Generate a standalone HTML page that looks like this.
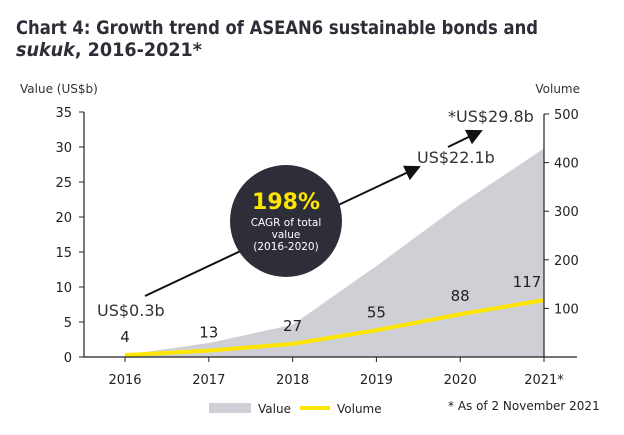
<!DOCTYPE html>
<html><head><meta charset="utf-8"><style>
body{margin:0;background:#fff;font-family:"Liberation Sans",sans-serif}
svg text{font-family:"DejaVu Sans","Liberation Sans",sans-serif}
</style></head><body>
<svg id="c" width="624" height="430">
<text x="16" y="34" font-size="19" font-weight="bold" fill="#2e2e38" textLength="522" lengthAdjust="spacingAndGlyphs">Chart 4: Growth trend of ASEAN6 sustainable bonds and</text>
<text x="16" y="56" font-size="19" font-weight="bold" fill="#2e2e38" textLength="186" lengthAdjust="spacingAndGlyphs"><tspan font-style="italic">sukuk</tspan>, 2016-2021*</text>
<text x="20" y="93" font-size="12" fill="#333">Value (US$b)</text>
<text x="580" y="93" font-size="12" fill="#333" text-anchor="end">Volume</text>
<g id="g"></g>
</svg>
<script>
const years=["2016","2017","2018","2019","2020","2021*"];
const values=[0.3,2,4.6,13,21.8,29.8];
const volumes=[4,13,27,55,88,117];
const leftTicks=[0,5,10,15,20,25,30,35];
const rightTicks=[100,200,300,400,500];
const NS="http://www.w3.org/2000/svg";
const g=document.getElementById('g');
const xS=i=>125+i*83.8;
const yL=v=>357-v*7;
const yR=v=>357-v*0.486;
function el(t,a,txt){const e=document.createElementNS(NS,t);for(const k in a)e.setAttribute(k,a[k]);if(txt!=null)e.textContent=txt;g.appendChild(e);return e;}
let d=`M${xS(0)},${yL(0)}`;values.forEach((v,i)=>d+=` L${xS(i)},${yL(v)}`);d+=` L${xS(5)},${yL(0)} Z`;
let a=el('path',{d,fill:'#cfd0d6'});


let pts=volumes.map((v,i)=>`${xS(i)},${yR(v)}`).join(' ');
let l=el('polyline',{points:pts,fill:'none',stroke:'#ffe600','stroke-width':4});


el('line',{x1:84,y1:112,x2:84,y2:357,stroke:'#222','stroke-width':1.2});
el('line',{x1:84,y1:357,x2:577,y2:357,stroke:'#222','stroke-width':1.2});
el('line',{x1:544,y1:114,x2:544,y2:357,stroke:'#222','stroke-width':1.2});
leftTicks.forEach(t=>{el('line',{x1:79,y1:yL(t),x2:84,y2:yL(t),stroke:'#222'});
 let e=el('text',{x:72,y:yL(t)+5,'font-size':13,'text-anchor':'end',fill:'#222'},t);
 
 });
rightTicks.forEach(t=>{el('line',{x1:544,y1:yR(t),x2:549,y2:yR(t),stroke:'#222'});
 let e=el('text',{x:554,y:yR(t)+5,'font-size':13,fill:'#222'},t);
 
 });
years.forEach((y,i)=>{el('line',{x1:xS(i),y1:357,x2:xS(i),y2:362,stroke:'#222'});
 let e=el('text',{x:xS(i),y:384,'font-size':13,'text-anchor':'middle',fill:'#222'},y);
 
 
 let v=el('text',{x:xS(i)+(i==5?-17:0),y:yR(volumes[i])-13,'font-size':15,'text-anchor':'middle',fill:'#222'},volumes[i]);
 
 });
const defs=document.createElementNS(NS,'defs');defs.innerHTML='<marker id="ar" markerWidth="8" markerHeight="8" refX="7" refY="4" orient="auto"><path d="M0,0L8,4L0,8Z" fill="#111"/></marker>';document.getElementById('c').appendChild(defs);
el('line',{x1:145,y1:296,x2:419,y2:167,stroke:'#111','stroke-width':2,'marker-end':'url(#ar)'});
el('line',{x1:448,y1:147,x2:481,y2:131,stroke:'#111','stroke-width':2,'marker-end':'url(#ar)'});
let c=el('circle',{cx:286,cy:221,r:56,fill:'#2e2e38'});


el('text',{x:286,y:209,'font-size':22,'font-weight':'bold','text-anchor':'middle',fill:'#ffe600'},'198%');
el('text',{x:286,y:226,'font-size':10.5,'text-anchor':'middle',fill:'#fff'},'CAGR of total');
el('text',{x:286,y:238,'font-size':10.5,'text-anchor':'middle',fill:'#fff'},'value');
el('text',{x:286,y:250,'font-size':10.5,'text-anchor':'middle',fill:'#fff'},'(2016-2020)');
el('text',{x:97,y:316,'font-size':16,fill:'#333'},'US$0.3b');
el('text',{x:417,y:163,'font-size':16,fill:'#333'},'US$22.1b');
el('text',{x:448,y:122,'font-size':16,fill:'#333'},'*US$29.8b');
el('rect',{x:209,y:403,width:42,height:10,fill:'#cfd0d6'});
el('text',{x:258,y:413,'font-size':12,fill:'#222'},'Value');
el('line',{x1:300,y1:408,x2:330,y2:408,stroke:'#ffe600','stroke-width':4});
el('text',{x:337,y:413,'font-size':12,fill:'#222'},'Volume');
el('text',{x:448,y:410,'font-size':12,fill:'#222'},'* As of 2 November 2021');
</script>
</body></html>
